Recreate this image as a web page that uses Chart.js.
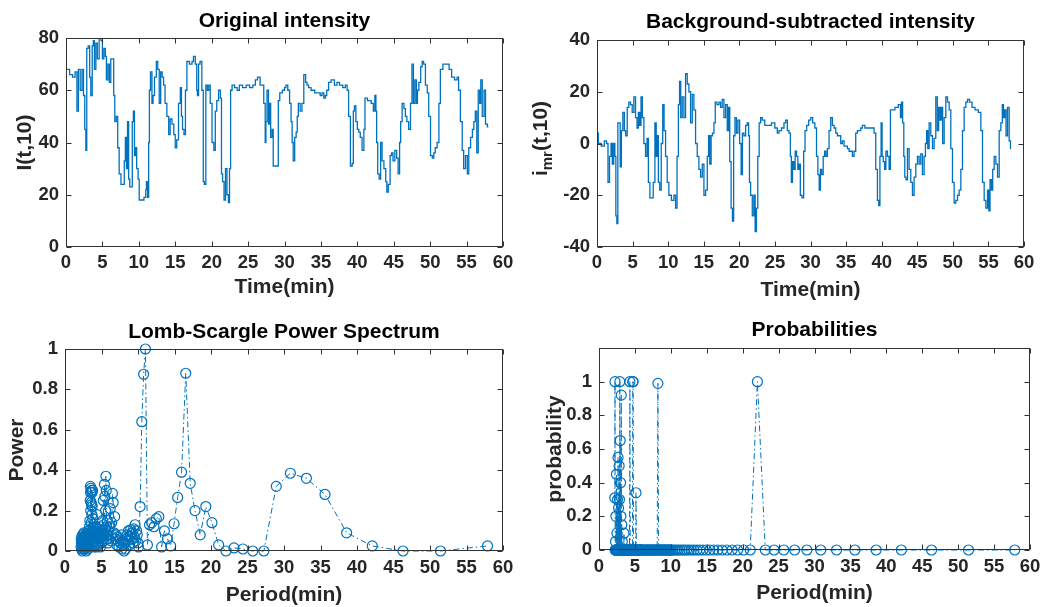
<!DOCTYPE html>
<html><head><meta charset="utf-8">
<script src="https://cdn.jsdelivr.net/npm/chart.js@4.4.1/dist/chart.umd.min.js"></script>
<style>
html,body{margin:0;padding:0;background:#fff;}
body{width:1047px;height:607px;position:relative;overflow:hidden;}
canvas{position:absolute;}
</style></head><body>
<canvas id="c1" style="left:0px;top:0px" width="520" height="305"></canvas>
<canvas id="c2" style="left:520px;top:0px" width="527" height="305"></canvas>
<canvas id="c3" style="left:0px;top:305px" width="520" height="302"></canvas>
<canvas id="c4" style="left:520px;top:305px" width="527" height="302"></canvas>
<script>
// ---------------- DATA ----------------
const timeOrig = [
0,0.3,0.7,1.1,1.4,1.6,1.8,2.1,2.3,2.5,
2.65,2.8,2.9,3.2,3.3,3.5,3.7,3.8,4.0,4.2,
4.4,4.7,4.9,5.1,5.3,5.5,5.6,5.9,6.0,6.3,
6.5,6.6,6.8,7.0,7.2,7.4,7.7,7.9,8.1,8.2,
8.4,8.5,8.7,8.8,9.0,9.2,9.3,9.5,9.6,9.8,
10.0,10.1,10.5,10.9,11.0,11.1,11.3,11.4,11.5,11.7,
11.9,12.0,12.3,12.5,12.7,12.9,13.1,13.3,13.5,13.7,
14.0,14.2,14.4,14.7,14.9,15.1,15.3,15.6,15.8,15.9,
16.1,16.3,16.5,16.7,17.2,17.4,17.6,17.9,18.0,18.1,
18.3,18.5,18.8,18.9,19.1,19.3,19.5,19.7,19.9,20.2,
20.4,20.6,20.8,21.1,21.3,21.4,21.6,21.8,22.0,22.2,
22.4,22.5,22.7,22.9,23.4,23.6,24.0,24.5,25.0,25.4,
25.9,26.1,26.5,26.8,27.0,27.3,27.4,27.5,27.7,27.9,
28.0,28.2,28.4,28.5,28.9,29.1,29.2,29.5,29.9,30.1,
30.3,30.6,30.8,31.0,31.1,31.3,31.5,31.7,31.8,32.0,
32.3,32.5,32.8,33.0,33.2,33.4,33.9,34.4,34.8,35.0,
35.3,35.5,35.7,35.9,36.2,36.6,37.1,37.3,37.8,38.2,
38.5,38.7,38.9,39.2,39.4,39.5,39.7,39.9,40.1,40.3,
40.5,40.8,41.0,41.1,41.7,42.1,42.3,42.5,42.6,42.7,
42.9,43.1,43.3,43.5,43.8,44.0,44.1,44.4,44.6,44.8,
45.0,45.3,45.5,45.7,45.9,46.0,46.3,46.5,46.7,46.9,
47.2,47.4,47.6,47.8,48.0,48.2,48.3,48.6,48.8,49.0,
49.2,49.5,49.7,49.9,50.2,50.4,50.6,50.8,51.1,51.3,
51.5,52.0,52.4,52.8,53.1,53.6,53.8,54.0,54.3,54.5,
54.7,55.0,55.2,55.4,55.7,55.9,56.1,56.3,56.5,56.7,
56.9,57.0,57.3,57.5,57.7,58.0];
const intensityOrig = [
68,68,66,65,67,52,68,60,68,58,
45,37,76,77,65,58,77,79,68,78,
72,80,79,72,76,73,64,70,63,72,
72,58,48,50,38,28,24,24,33,42,
30,48,26,23,23,48,52,35,38,30,
26,18,18,19,22,25,19,40,60,67,
55,58,65,71,68,55,67,65,62,55,
50,43,49,47,43,38,41,55,61,50,
45,43,60,71,70,71,73,70,60,58,
70,71,60,25,24,62,60,62,55,40,
37,52,56,60,57,28,25,18,30,20,
17,30,60,62,61,60,62,61,62,61,
62,64,65,62,62,55,40,48,60,47,
55,42,45,31,31,31,56,59,60,61,
62,60,55,48,40,33,42,44,50,55,
52,55,66,63,62,61,60,59,59,58,
59,57,58,60,63,64,62,63,62,61,
62,60,50,31,32,52,54,48,45,44,
42,37,45,57,56,55,52,58,52,40,
28,26,40,33,30,25,21,24,35,36,
33,37,34,28,40,48,55,53,50,48,
45,55,70,55,64,55,60,63,69,71,
70,62,59,50,35,34,36,38,40,55,
68,70,70,68,65,64,65,60,48,37,
30,35,28,38,42,45,48,52,36,60,
55,64,50,60,47,46];

const timeSub = [
0,0.37,0.84,1.22,1.45,1.64,1.88,2.06,2.25,2.44,
2.58,2.72,2.86,3.0,3.19,3.33,3.52,3.75,3.94,4.13,
4.36,4.59,4.83,5.06,5.30,5.53,5.72,5.91,6.09,6.28,
6.47,6.70,6.94,7.13,7.31,7.55,7.78,8.02,8.25,8.39,
8.53,8.72,8.91,9.14,9.33,9.52,9.75,9.98,10.22,10.69,
10.92,11.16,11.34,11.53,11.67,11.86,12.09,12.33,12.56,12.80,
13.03,13.27,13.50,13.73,13.97,14.20,14.44,14.67,14.91,15.14,
15.38,15.61,15.75,15.94,16.13,16.31,16.55,16.69,17.02,17.25,
17.48,17.72,17.95,18.19,18.42,18.56,18.75,18.94,19.13,19.27,
19.50,19.69,19.92,20.16,20.34,20.53,20.77,21.00,21.23,21.38,
21.47,21.70,21.94,22.13,22.31,22.50,22.69,22.88,23.11,23.34,
23.81,24.28,24.75,25.22,25.45,25.69,26.16,26.39,26.63,26.86,
27.10,27.24,27.38,27.56,27.75,27.94,28.13,28.31,28.50,28.64,
28.97,29.11,29.35,29.58,29.91,30.15,30.47,30.75,30.94,31.13,
31.32,31.46,31.69,31.88,32.07,32.26,32.49,32.72,32.96,33.19,
33.43,33.66,33.90,34.13,34.36,34.60,34.83,35.07,35.30,35.54,
35.77,36.00,36.24,36.47,36.71,36.94,37.18,37.41,37.88,38.35,
38.82,39.05,39.29,39.52,39.66,39.85,39.99,40.13,40.32,40.50,
40.69,40.93,41.16,41.30,41.63,42.10,42.57,42.71,42.85,43.04,
43.18,43.32,43.51,43.74,43.97,44.21,44.44,44.68,44.91,45.15,
45.38,45.61,45.85,46.08,46.22,46.41,46.55,46.79,47.02,47.26,
47.49,47.72,47.91,48.10,48.29,48.47,48.66,48.90,49.13,49.37,
49.60,49.83,50.07,50.30,50.54,50.77,51.01,51.24,51.47,51.71,
51.94,52.18,52.51,52.88,53.35,53.82,54.05,54.29,54.52,54.76,
54.99,55.13,55.32,55.51,55.69,55.93,56.16,56.40,56.63,56.86,
57.04,57.19,57.38,57.57,57.80,58.03,58.17];
const intensitySub = [
4,0,-1,1,0,-15,-5,0,-8,0,
-5,-28,-31,8,8,-9,5,12,5,3,
14,16,15,12,18,10,6,12,7,18,
10,0,-5,2,-15,-21,-21,-15,8,-5,
3,-15,-18,0,15,5,-5,-15,-20,-22,
-20,-25,-5,15,24,10,18,10,27,23,
20,8,19,13,0,-5,-10,-13,-8,-20,
-18,-5,3,-8,3,4,8,16,15,16,
14,17,10,15,5,14,-7,-25,-30,3,
10,4,9,0,-12,4,3,7,8,3,
-15,-20,-28,-20,-34,-25,-5,8,10,9,
7,7,8,6,4,5,6,8,9,5,
4,-5,-15,-7,-10,-3,-5,-10,-8,-20,
-21,-3,5,7,9,10,8,6,-5,-12,
-18,-10,-12,-5,-3,-5,-2,5,10,7,
6,4,3,3,0,1,-1,-1,-2,-3,
-3,-5,-3,4,5,5,6,7,6,6,
6,4,-10,-22,-24,-5,8,-5,-7,-10,
-3,-5,-10,13,13,14,15,10,16,8,
-5,-13,-14,-2,-10,-15,-20,-13,-8,-5,
-8,-4,-12,-5,0,5,-2,8,3,-2,
2,18,5,14,9,14,0,10,18,16,
13,-2,-15,-23,-22,-20,-18,-10,5,14,
16,17,16,14,13,12,5,-15,-22,-25,
-18,-26,-14,-18,-10,-5,-8,-13,5,8,
15,10,13,3,14,1,-2];

const periods = [
2.200,2.225,2.250,2.275,2.300,2.325,2.350,2.375,2.400,2.425,
2.450,2.475,2.500,2.525,2.550,2.575,2.600,2.625,2.650,2.675,
2.700,2.725,2.750,2.775,2.800,2.825,2.850,2.875,2.900,2.925,
2.950,2.975,3.000,3.025,3.050,3.075,3.100,3.125,3.150,3.175,
3.200,3.225,3.250,3.275,3.300,3.325,3.350,3.375,3.400,3.425,
3.450,3.475,3.500,3.525,3.550,3.575,3.600,3.625,3.650,3.675,
3.700,3.725,3.750,3.775,3.800,3.825,3.850,3.875,3.900,3.925,
3.950,3.975,4.000,
4.05,4.10,4.15,4.20,4.25,4.30,4.35,4.40,4.45,4.50,
4.55,4.60,4.65,4.70,4.75,4.80,4.85,4.90,4.95,5.00,
5.05,5.10,5.15,5.20,5.25,5.30,5.35,5.40,5.45,5.50,
5.55,5.60,5.65,5.70,5.75,5.80,5.85,5.90,5.95,6.00,
6.1,6.2,6.3,6.4,6.5,6.6,6.7,6.8,6.9,7.0,
7.1,7.2,7.3,7.4,7.5,7.6,7.7,7.8,7.9,8.0,
8.1,8.2,8.3,8.4,8.5,8.6,8.7,8.8,8.9,9.0,
9.1,9.2,9.3,9.4,9.5,9.6,9.7,9.8,9.9,10.0,
10.07,10.29,10.52,10.77,11.02,11.29,11.58,11.87,12.18,12.51,
12.86,13.23,13.62,14.03,14.47,14.94,15.43,15.97,16.54,17.15,
17.81,18.52,19.29,20.13,21.05,22.05,23.15,24.37,25.72,27.24,
28.94,30.87,33.07,35.62,38.58,42.09,46.3,51.44,57.88];
const powerValues = [
0.02,0.06,0.04,0.01,0.07,0.03,0.05,0.00,0.08,0.04,
0.02,0.06,0.03,0.07,0.01,0.05,0.09,0.02,0.06,0.04,
0.01,0.07,0.03,0.05,0.08,0.02,0.06,0.04,0.00,0.07,
0.05,0.09,0.03,0.06,0.02,0.08,0.04,0.01,0.06,0.03,
0.07,0.05,0.10,0.02,0.06,0.04,0.12,0.08,0.15,0.05,
0.25,0.32,0.29,0.20,0.31,0.24,0.14,0.30,0.23,0.18,
0.29,0.22,0.10,0.30,0.16,0.07,0.12,0.04,0.09,0.03,
0.06,0.02,0.08,
0.05,0.10,0.03,0.12,0.06,0.02,0.09,0.18,0.07,0.04,
0.08,0.03,0.11,0.06,0.12,0.09,0.02,0.07,0.05,0.10,
0.04,0.08,0.15,0.06,0.25,0.13,0.05,0.33,0.27,0.09,
0.20,0.37,0.30,0.12,0.06,0.15,0.08,0.04,0.10,0.06,
0.12,0.21,0.05,0.14,0.285,0.24,0.09,0.17,0.06,0.08,
0.03,0.07,0.05,0.02,0.06,0.04,0.08,0.01,0.05,0.03,
0.00,0.04,0.01,0.06,0.08,0.05,0.10,0.03,0.07,0.105,
0.06,0.09,0.04,0.11,0.07,0.13,0.05,0.10,0.08,0.04,
0.02,0.22,0.64,0.875,1.0,0.03,0.13,0.14,0.12,0.16,
0.17,0.02,0.10,0.06,0.025,0.135,0.265,0.39,0.88,0.335,
0.20,0.08,0.22,0.14,0.03,0.0,0.015,0.01,0.0,0.0,
0.32,0.385,0.36,0.28,0.09,0.025,0.0,0.0,0.025];
const probabilityValues = [
0.31,1,0,0,0.05,0,0.2,0,0,0.45,
0,0,0.1,0,0,0.3,0,0,0.55,0,
0,0.25,0,0,0.5,0,0.3,0,1,0,
0.65,0,0.4,0,0.2,0,0.92,0,0,0.15,
0,0,0.05,0,0,0,0,0,0,0,
0,0.1,0,0,0,0,0,0,0,0,
0,0,0,0,0,0,0,0,0,0,
0,0,0,
0,0,0,0,0,1,0,0,0,0,
0,0,0,1,1,0,0,0,0,0,
0,0,0.34,0,0,0,0,0,0,0,
0,0,0,0,0,0,0,0,0,0,
0,0,0,0,0,0,0,0,0,0,
0,0,0,0,0,0,0,0,0,0,
0,0.99,0,0,0,0,0,0,0,0,
0,0,0,0,0,0,0,0,0,0,
0,0,0,0,0,0,0,0,0,0,
0,0,0,0,0,0,0,0,0,0,
0,0,0,0,0,1,0,0,0,0,
0,0,0,0,0,0,0,0,0];

const timeTicks = [0,5,10,15,20,25,30,35,40,45,50,55,60];
const intensityTicks = [0,20,40,60,80];
const subTicks = [-40,-20,0,20,40];
const powerTicks = [0,0.2,0.4,0.6,0.8,1];
const probTicks = [0,0.2,0.4,0.6,0.8,1];

// ---------------- STYLE ----------------
const FONT = "'Liberation Sans', Arial, Helvetica, sans-serif";
const BLUE = '#0072BD';
const TXT = '#262626';

function decor(cfg) {
  return {
    id: 'decor',
    afterDraw(chart) {
      const {ctx, chartArea: a, scales: {x, y}} = chart;
      ctx.save();
      ctx.strokeStyle = '#333';
      ctx.lineWidth = 1;
      const L = Math.round(a.left) + 0.5, R = Math.round(a.right) - 0.5;
      const T = Math.round(a.top) + 0.5, B = Math.round(a.bottom) - 0.5;
      ctx.strokeRect(L, T, R - L, B - T);
      ctx.beginPath();
      x.ticks.forEach(t => {
        const p = Math.round(x.getPixelForValue(t.value)) + 0.5;
        ctx.moveTo(p, B); ctx.lineTo(p, B - 5);
        ctx.moveTo(p, T); ctx.lineTo(p, T + 5);
      });
      y.ticks.forEach(t => {
        const p = Math.round(y.getPixelForValue(t.value)) + 0.5;
        ctx.moveTo(L, p); ctx.lineTo(L + 5, p);
        ctx.moveTo(R, p); ctx.lineTo(R - 5, p);
      });
      ctx.stroke();
      // axis titles
      ctx.fillStyle = TXT;
      ctx.textBaseline = 'middle';
      ctx.textAlign = 'center';
      ctx.font = 'bold 21px ' + FONT;
      ctx.fillText(cfg.xTitle, (a.left + a.right) / 2, a.bottom + cfg.xTitleOff);
      const cx = a.left - cfg.yTitleOff, cy = (a.top + a.bottom) / 2 + (cfg.yShift || 0);
      ctx.translate(cx, cy);
      ctx.rotate(-Math.PI / 2);
      let total = 0;
      cfg.yParts.forEach(p => { ctx.font = 'bold ' + p.size + 'px ' + FONT; p.w = ctx.measureText(p.text).width; total += p.w; });
      let px = -total / 2;
      ctx.textAlign = 'left';
      cfg.yParts.forEach(p => { ctx.font = 'bold ' + p.size + 'px ' + FONT; ctx.fillText(p.text, px, p.dy || 0); px += p.w; });
      ctx.restore();
    }
  };
}

function makeChart(id, o) {
  const data = o.xs.map((v, i) => ({x: v, y: o.ys[i]}));
  const ds = o.markers ? {
    data, borderColor: BLUE, borderWidth: 1, borderDash: [6, 3, 1.5, 3],
    pointRadius: 5, pointStyle: 'circle', pointBorderColor: BLUE, pointBorderWidth: 1.2,
    pointBackgroundColor: 'rgba(0,0,0,0)', fill: false, tension: 0, clip: false
  } : {
    data, borderColor: BLUE, borderWidth: 1.3, pointRadius: 0, fill: false,
    tension: 0, stepped: 'middle'
  };
  const tickFont = {family: FONT, size: 18.5, weight: 'bold'};
  const fmt = v => String(+Number(v).toFixed(2));
  new Chart(document.getElementById(id), {
    type: 'line',
    data: {datasets: [ds]},
    options: {
      responsive: false, animation: false, events: [],
      layout: {padding: {left: 0, right: o.padRight, top: 0, bottom: 0}},
      plugins: {
        legend: {display: false}, tooltip: {enabled: false},
        title: {display: true, text: o.title, fullSize: false, color: '#000',
          font: {family: FONT, size: 21, weight: 'bold'},
          padding: {top: o.titleTop, bottom: o.titleBottom}}
      },
      scales: {
        x: {
          type: 'linear', min: 0, max: 60,
          afterBuildTicks: s => { s.ticks = timeTicks.map(v => ({value: v})); },
          afterFit: s => { s.height = o.xH; },
          grid: {display: false, drawTicks: false}, border: {display: false},
          ticks: {padding: o.xTickPad, font: tickFont, color: TXT, maxRotation: 0, autoSkip: false, callback: fmt}
        },
        y: {
          type: 'linear', min: o.yMin, max: o.yMax,
          afterBuildTicks: s => { s.ticks = o.yTicks.map(v => ({value: v})); },
          afterFit: s => { s.width = o.yW; },
          grid: {display: false, drawTicks: false}, border: {display: false},
          ticks: {padding: 7, font: tickFont, color: TXT, autoSkip: false, callback: fmt}
        }
      }
    },
    plugins: [decor(o.decor)]
  });
}

// title font 21px -> lineHeight 25.2
makeChart('c1', {
  xs: timeOrig, ys: intensityOrig, markers: false, title: 'Original intensity',
  padRight: 17, titleTop: 8.4, titleBottom: 4.4, xH: 58, yW: 66, xTickPad: 5,
  yMin: 0, yMax: 80, yTicks: intensityTicks,
  decor: {xTitle: 'Time(min)', xTitleOff: 40, yTitleOff: 41, yParts: [{text: 'I(t,10)', size: 21}]}
});
makeChart('c2', {
  xs: timeSub, ys: intensitySub, markers: false, title: 'Background-subtracted intensity',
  padRight: 23, titleTop: 9.4, titleBottom: 5.4, xH: 58, yW: 77, xTickPad: 5,
  yMin: -40, yMax: 40, yTicks: subTicks,
  decor: {xTitle: 'Time(min)', xTitleOff: 43, yTitleOff: 56, yShift: -5,
    yParts: [{text: 'i', size: 21}, {text: 'mr', size: 15, dy: 7}, {text: '(t,10)', size: 21}]}
});
makeChart('c3', {
  xs: periods, ys: powerValues, markers: true, title: 'Lomb-Scargle Power Spectrum',
  padRight: 17, titleTop: 14.4, titleBottom: 4.4, xH: 56, yW: 65, xTickPad: 6,
  yMin: 0, yMax: 1, yTicks: powerTicks,
  decor: {xTitle: 'Period(min)', xTitleOff: 44, yTitleOff: 48, yParts: [{text: 'Power', size: 21}]}
});
makeChart('c4', {
  xs: periods, ys: probabilityValues, markers: true, title: 'Probabilities',
  padRight: 17, titleTop: 12.4, titleBottom: 5.4, xH: 57, yW: 79, xTickPad: 6,
  yMin: 0, yMax: 1.2, yTicks: probTicks,
  decor: {xTitle: 'Period(min)', xTitleOff: 43, yTitleOff: 44, yParts: [{text: 'probability', size: 21}]}
});
</script>
</body></html>
